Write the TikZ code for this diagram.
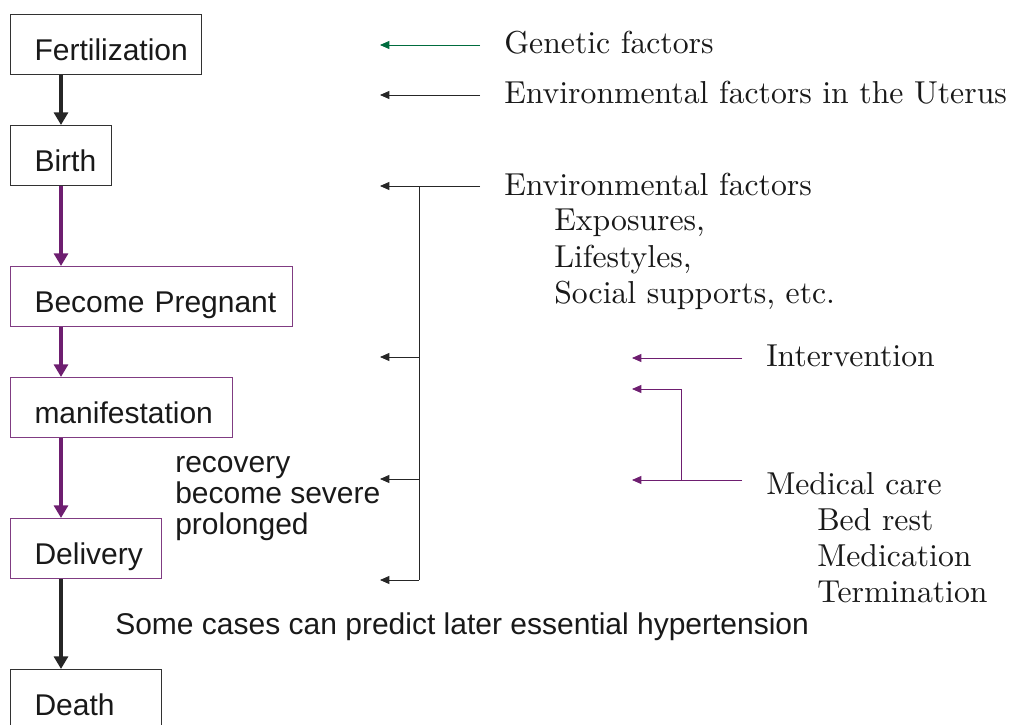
\documentclass[tikz,border=0pt]{standalone}
\usepackage{fontspec}
\setsansfont{Liberation Sans}
\newfontfamily\factorfont{lmroman10-regular.otf}
\usetikzlibrary{arrows.meta,positioning}
\definecolor{flowpurple}{RGB}{110,30,112}
\definecolor{boxpurple}{RGB}{128,60,130}
\definecolor{genegreen}{RGB}{0,108,62}
\definecolor{boxgray}{RGB}{50,50,50}

\begin{document}
\begin{tikzpicture}[x=0.75pt,y=-0.75pt,
    stage/.style={draw=boxgray,line width=0.75pt,anchor=north west,
      text width={(#1-48)*0.75pt},align=left,inner xsep=18pt,inner ysep=0pt,
      minimum height=45pt,text height=24pt,text depth=0pt,
      font=\sffamily\fontsize{22.5}{27}\selectfont,text=black!90},
    pstage/.style={stage=#1,draw=boxpurple},
    bigarrow/.style={-{Triangle[length=9.5pt,width=10.5pt]},line width=3pt,black!85},
    parrow/.style={bigarrow,flowpurple},
    factor/.style={anchor=base west,inner sep=0pt,
      font=\factorfont\fontsize{23.8}{28}\selectfont,text=black!90},
    remark/.style={anchor=base west,inner sep=0pt,align=left,
      font=\sffamily\fontsize{22.5}{23}\selectfont,text=black!90},
    thin/.style={-{Triangle[length=7pt,width=6pt]},line width=0.6pt,black!85}]
  \useasboundingbox (0,0) rectangle (1015,725);
  % life course boxes
  \node[stage=191] (fert) at (10,14) {Fertilization};
  \node[stage=101] (birth) at (10,125) {Birth};
  \node[pstage=282] (preg) at (10,266) {\mbox{Become Pregnant}};
  \node[pstage=222] (manif) at (10,377) {manifestation};
  \node[pstage=151] (deliv) at (10,518) {Delivery};
  \node[stage=151] (death) at (10,669) {Death};
  \coordinate (spine) at (61,0);
  \draw[bigarrow] (fert.south -| spine) -- (birth.north -| spine);
  \draw[parrow] (birth.south -| spine) -- (preg.north -| spine);
  \draw[parrow] (preg.south -| spine) -- (manif.north -| spine);
  \draw[parrow] (manif.south -| spine) -- (deliv.north -| spine);
  \draw[bigarrow] (deliv.south -| spine) -- (death.north -| spine);
  % outcomes
  \node[remark] (course) at (175,534) {recovery\\become severe\\prolonged};
  \node[remark] (predict) at (115,634) {Some cases can predict later essential hypertension};
  % factors
  \node[factor] (genetic) at (504,53) {Genetic factors};
  \node[factor] (uterus) at (504,103) {Environmental factors in the Uterus};
  \node[factor] (envir) at (504,195) {Environmental factors};
  \node[factor] (expo) at (554,230) {Exposures,};
  \node[factor] (life) at (554,267) {Lifestyles,};
  \node[factor] (social) at (554,303) {Social supports, etc.};
  \node[factor] (interv) at (766,366) {Intervention};
  \node[factor] (medic) at (766,494) {Medical care};
  \node[factor] (bedrest) at (817,530) {Bed rest};
  \node[factor] (medicat) at (817,566) {Medication};
  \node[factor] (termin) at (817,602) {Termination};
  % factor arrows
  \coordinate (gene0) at (480,45);  \coordinate (gene1) at (380,45);
  \coordinate (uter0) at (480,95);  \coordinate (uter1) at (380,95);
  \coordinate (env0) at (480,186);  \coordinate (env1) at (380,186);
  \coordinate (trunk) at (419,186);
  \draw[thin,genegreen] (gene0) -- (gene1);
  \draw[thin] (uter0) -- (uter1);
  \draw[thin] (env0) -- (env1);
  \draw[line width=0.6pt,black!85] (trunk) -- (419,580);
  \foreach \y in {357,479,580}
    \draw[thin] (419,\y) -- (380,\y);
  % care arrows
  \coordinate (int0) at (742,358); \coordinate (int1) at (632,358);
  \coordinate (med0) at (742,480); \coordinate (med1) at (632,480);
  \draw[thin,flowpurple] (int0) -- (int1);
  \draw[thin,flowpurple] (med0) -- (med1);
  \draw[thin,flowpurple] (681,480) -- (681,389) -- (632,389);
\end{tikzpicture}
\end{document}
